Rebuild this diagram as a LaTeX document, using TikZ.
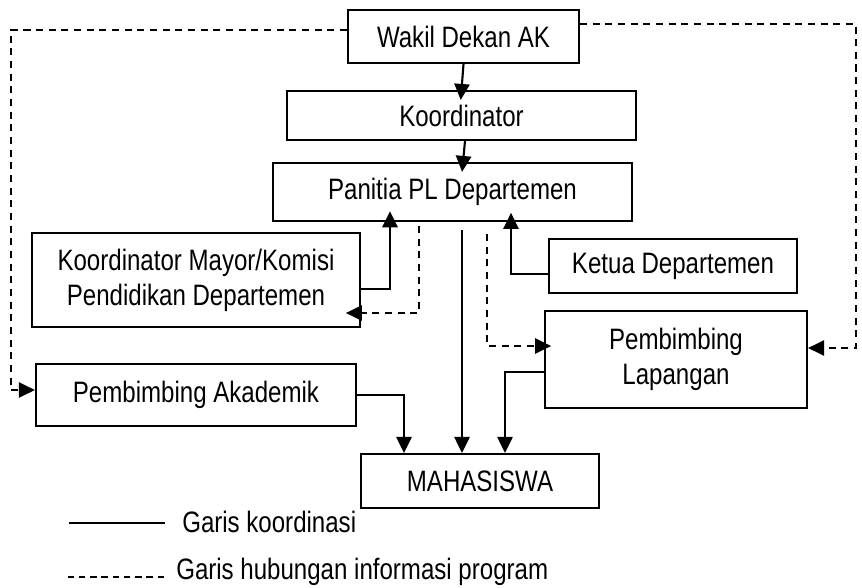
\documentclass[tikz,border=0pt]{standalone}
\usepackage{fontspec}
\setmainfont{Liberation Sans}[FakeStretch=0.815]
\usepackage{tikz}
\usetikzlibrary{arrows.meta,shapes}

\begin{document}
\begin{tikzpicture}[x=0.025cm, y=-0.025cm, every node/.style={font=\fontsize{21}{25}\selectfont},
	box/.style={draw=black, line width=1.5pt, inner sep=0pt, align=center},
	arr/.style={line width=1.5pt, -{Triangle[length=0.4cm,width=0.38cm]}},
	info/.style={arr, line width=1.2pt, dash pattern=on 5pt off 4pt}]
	\useasboundingbox (0,0) rectangle (862,587);
	\node[box, minimum width=5.775cm, minimum height=1.325cm] (wakil) at (463.5,36.5) {Wakil Dekan AK};
	\node[box, minimum width=8.725cm, minimum height=1.225cm] (koord) at (461.5,115.5) {Koordinator};
	\node[box, minimum width=8.975cm, minimum height=1.45cm] (panitia) at (452.5,192) {Panitia PL Departemen};
	\node[box, minimum width=8.2cm, minimum height=2.35cm] (km) at (196,280) {Koordinator Mayor/Komisi\\Pendidikan Departemen};
	\node[box, minimum width=6.2cm, minimum height=1.35cm] (ketua) at (673,266) {Ketua Departemen};
	\node[box, minimum width=6.55cm, minimum height=2.425cm] (pl) at (676,359.5) {Pembimbing\\Lapangan};
	\node[box, minimum width=8cm, minimum height=1.55cm] (pa) at (196,395) {Pembimbing Akademik};
	\node[box, minimum width=5.95cm, minimum height=1.35cm] (mhs) at (480,481) {MAHASISWA};
	% garis koordinasi
	\draw[arr, shorten >=-0.25cm] (wakil.south) -- (koord.north);
	\draw[arr, shorten >=-0.25cm] (koord.south -| 465,0) -- (panitia.north -| 463,0);
	\draw[arr, shorten >=-0.27cm] (km.east |- 0,289) -| (panitia.south -| 390,0);
	\draw[arr, shorten >=-0.23cm] (ketua.west |- 0,274) -| (panitia.south -| 511,0);
	\draw[arr, shorten <=0.2cm] (panitia.south -| 462,0) -- (mhs.north -| 462,0);
	\draw[arr] (pa.east |- 0,395) -| (mhs.north -| 404,0);
	\draw[arr] (pl.west |- 0,372) -| (mhs.north -| 505,0);
	% garis informasi
	\draw[info, shorten <=0.1cm, shorten >=-0.38cm] (panitia.south -| 419,0) |- (km.east |- 0,313);
	\draw[info, shorten <=0.3cm, shorten >=-0.18cm] (panitia.south -| 487,0) |- (pl.west |- 0,346);
	\draw[info] (wakil.west |- 0,30) -| (11,390) -- (pa.west |- 0,390);
	\draw[info] (wakil.east |- 0,24) -| (856,348) -- (pl.east |- 0,348);
	% keterangan
	\node[anchor=west, inner sep=0pt] (lgk) at (182,522) {Garis koordinasi};
	\node[anchor=west, inner sep=0pt] (lgi) at (176,572) {Garis hubungan informasi program};
	\draw[line width=0.8pt] (lgk.west) ++(-17,1) -- ++(-96,0);
	\draw[line width=0.8pt, dash pattern=on 4.5pt off 3.5pt] (lgi.west) ++(-12,5) -- ++(-96,0);%
\end{tikzpicture}
\end{document}
